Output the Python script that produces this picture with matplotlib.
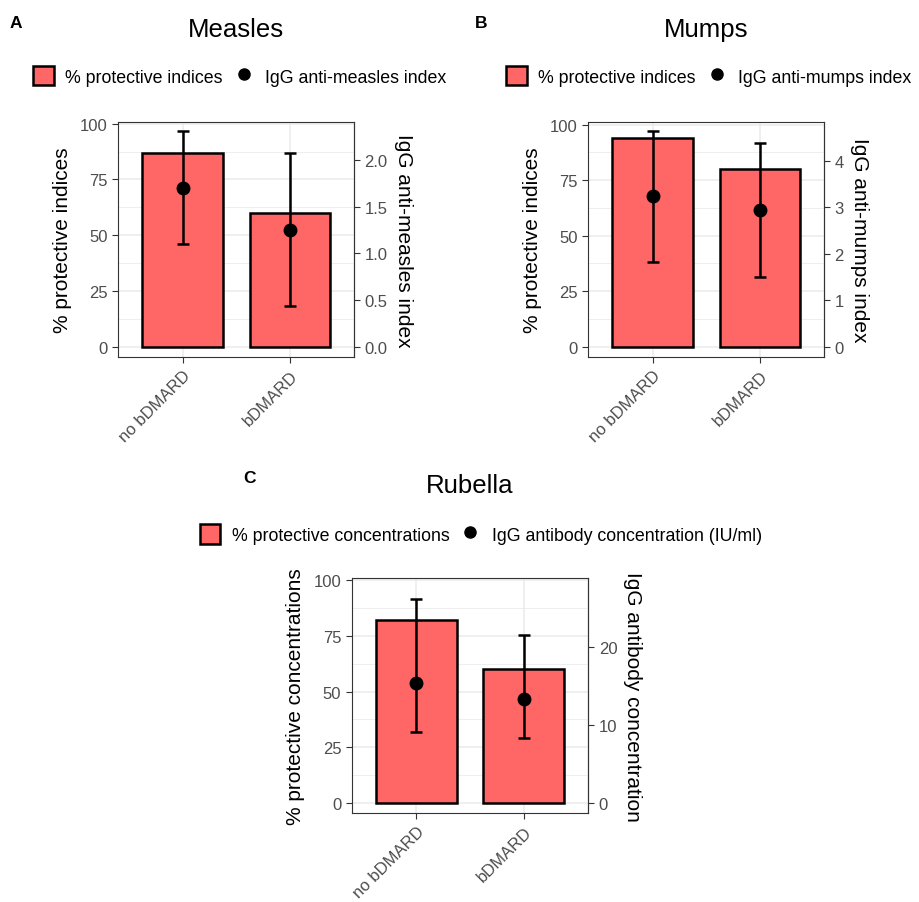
import numpy as np
import matplotlib.pyplot as plt
from matplotlib.patches import Patch
from matplotlib.lines import Line2D

plt.rcParams['font.family'] = ['Liberation Sans', 'DejaVu Sans']

groups = ['no bDMARD', 'bDMARD']

# measles
measles_pct = [87, 60]
measles_idx = [1.70, 1.25]
measles_lo = [1.10, 0.44]
measles_hi = [2.31, 2.07]

# mumps
mumps_pct = [94, 80]
mumps_idx = [3.23, 2.93]
mumps_lo = [1.83, 1.49]
mumps_hi = [4.64, 4.37]

# rubella
rubella_pct = [82, 60]
rubella_conc = [15.4, 13.4]
rubella_lo = [9.1, 8.3]
rubella_hi = [26.2, 21.6]

bar_col = '#FF6666'
grey20 = '#333333'
tick_col = '#4D4D4D'
W, H = 919, 903


def panel(rect, pct, mid, lo, hi, k, ylim, sec_ticks, ylab, sec_lab, title, title_base,
          letter, letter_xy, leg_labels, leg_xy):
    ax = fig.add_axes(rect)
    x = np.arange(1, len(groups) + 1)
    ax.bar(x, pct, width=0.75, color=bar_col, edgecolor='black', linewidth=1.8, zorder=3)
    mid = np.array(mid) * k
    err = [mid - np.array(lo) * k, np.array(hi) * k - mid]
    ax.errorbar(x, mid, yerr=err, fmt='o', color='black', ms=9, elinewidth=1.8,
                capsize=4.5, capthick=1.8, zorder=4)
    ax.set_xlim(0.4, 2.6)
    ax.set_ylim(*ylim)
    ax.set_yticks([0, 25, 50, 75, 100])
    ax.set_yticks([12.5, 37.5, 62.5, 87.5], minor=True)
    ax.set_xticks(x)
    ax.set_xticklabels(groups, rotation=45, ha='right', rotation_mode='anchor')
    ax.grid(True, which='major', color='#EBEBEB', linewidth=1.1, zorder=0)
    ax.grid(True, which='minor', axis='y', color='#EBEBEB', linewidth=0.6, zorder=0)
    ax.set_axisbelow(True)
    for s in ax.spines.values():
        s.set_color(grey20)
        s.set_linewidth(0.8)
    ax.tick_params(which='major', length=4, width=0.8, color=grey20,
                   labelcolor=tick_col, labelsize=12)
    ax.tick_params(which='minor', length=0)
    ax.set_ylabel(ylab, fontsize=15, labelpad=6)

    sec = ax.secondary_yaxis('right', functions=(lambda p: p / k, lambda v: v * k))
    sec.set_yticks(sec_ticks)
    sec.spines['right'].set_color(grey20)
    sec.tick_params(length=4, width=0.8, color=grey20, labelcolor=tick_col, labelsize=12)
    sec.set_ylabel(sec_lab, fontsize=15, rotation=270, labelpad=18)
    if sec_ticks[1] < 1:
        sec.set_yticklabels(['%.1f' % t for t in sec_ticks])

    cx = rect[0] + rect[2] / 2
    fig.text(cx, 1 - title_base / H, title, fontsize=18.5, ha='center', va='baseline')
    fig.text(letter_xy[0] / W, 1 - letter_xy[1] / H, letter, fontsize=12.5,
             fontweight='bold', ha='center', va='baseline')
    handles = [Patch(facecolor=bar_col, edgecolor='black', linewidth=1.8),
               Line2D([], [], marker='o', color='black', linestyle='none', ms=8)]
    fig.legend(handles, leg_labels, loc='center', bbox_to_anchor=leg_xy, ncol=2,
               frameon=False, fontsize=12.8, handlelength=1.15, handleheight=1.3,
               columnspacing=0.6, handletextpad=0.65, borderpad=0.2)
    return ax


fig = plt.figure(figsize=(W / 100, H / 100), dpi=100)

panel([0.1287, 0.6032, 0.2565, 0.2609], measles_pct, measles_idx, measles_lo, measles_hi,
      41.9, (-4.75, 100.9), [0.0, 0.5, 1.0, 1.5, 2.0],
      '% protective indices', 'IgG anti-measles index', 'Measles', 37, 'A', (16, 28),
      ['% protective indices', 'IgG anti-measles index'], (240 / W, 0.915))

panel([0.6402, 0.6032, 0.2565, 0.2609], mumps_pct, mumps_idx, mumps_lo, mumps_hi,
      20.95, (-4.77, 101.35), [0, 1, 2, 3, 4],
      '% protective indices', 'IgG anti-mumps index', 'Mumps', 37, 'B', (481, 28),
      ['% protective indices', 'IgG anti-mumps index'], (709 / W, 0.915))

panel([0.3827, 0.0982, 0.2575, 0.2606], rubella_pct, rubella_conc, rubella_lo, rubella_hi,
      3.49, (-4.6, 100.9), [0, 10, 20],
      '% protective concentrations', 'IgG antibody concentration', 'Rubella', 493,
      'C', (249, 483),
      ['% protective concentrations', 'IgG antibody concentration (IU/ml)'], (481 / W, 0.4075))

fig.savefig('out.png', dpi=100)
